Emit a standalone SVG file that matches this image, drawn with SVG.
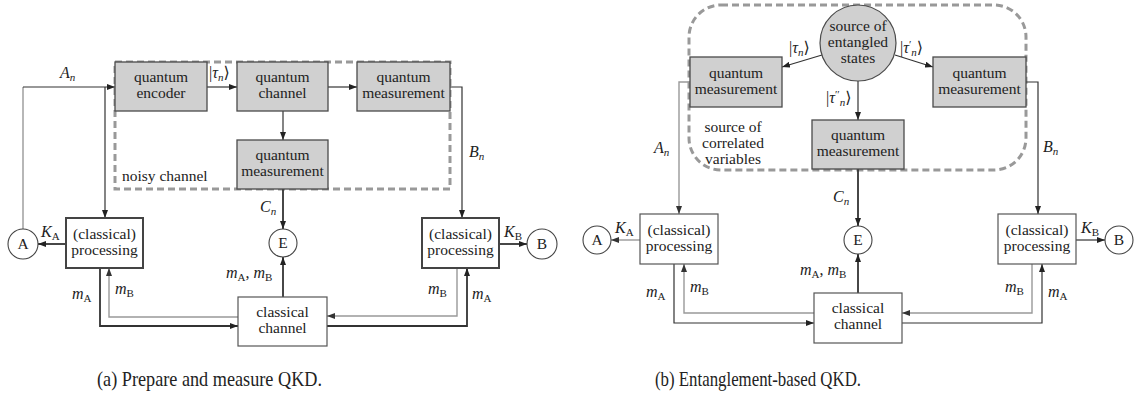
<svg xmlns="http://www.w3.org/2000/svg" width="1135" height="399" viewBox="0 0 1135 399" font-family="'Liberation Serif', 'DejaVu Serif', serif">
  <defs>
    <marker id="arr" viewBox="0 0 8 6" refX="8" refY="3" markerWidth="8" markerHeight="6" markerUnits="userSpaceOnUse" orient="auto">
      <path d="M0,0 L8,3 L0,6 z" fill="#222"/>
    </marker>
    <marker id="arrg" viewBox="0 0 8 6" refX="8" refY="3" markerWidth="8" markerHeight="6" markerUnits="userSpaceOnUse" orient="auto">
      <path d="M0,0 L8,3 L0,6 z" fill="#333"/>
    </marker>
    <style>
      text { font-family: "Liberation Serif", "DejaVu Serif", serif; fill: #222; }
      .t { font-size: 15.5px; text-anchor: middle; }
      .tl { font-size: 15.5px; }
      .m { font-size: 16px; }
      .i { font-style: italic; }
      .s { font-size: 11px; }
      .q { fill: #d0d0d0; stroke: #4a4a4a; stroke-width: 1.3; }
      .b { fill: #fff; stroke: #555; stroke-width: 1.2; }
      .bk { fill: #fff; stroke: #444; stroke-width: 2; }
      .c { fill: #fff; stroke: #444; stroke-width: 1.1; }
      .src { fill: #d0d0d0; stroke: #4a4a4a; stroke-width: 1.2; }
      .dash { fill: none; stroke: #999; stroke-width: 3; stroke-dasharray: 7 4; }
      .l { fill: none; stroke: #333; stroke-width: 1.2; }
      .lk { fill: none; stroke: #333; stroke-width: 1.8; }
      .lg { fill: none; stroke: #999; stroke-width: 1.4; }
      .cap { font-size: 21px; }
    </style>
  </defs>

  <!-- ===== (a) prepare and measure ===== -->
  <rect class="dash" x="115" y="62" width="335" height="127"/>
  <text class="tl" x="122" y="181">noisy channel</text>

  <g id="a-connectors">
    <path class="lg" d="M23,87 V229"/>
    <path class="l" d="M23,87 H115" marker-end="url(#arr)"/>
    <path class="l" d="M105,87 V218" marker-end="url(#arr)"/>
    <path class="l" d="M207,87 H237" marker-end="url(#arr)"/>
    <path class="l" d="M328,87 H357" marker-end="url(#arr)"/>
    <path class="l" d="M283,111 V140" marker-end="url(#arr)"/>
    <path class="l" d="M450,87 H462 V218" marker-end="url(#arr)"/>
    <path class="lk" d="M283,189 V229" marker-end="url(#arr)"/>
    <path class="lk" d="M283,297 V257" marker-end="url(#arr)"/>
    <path class="lk" d="M66,244 H38" marker-end="url(#arr)"/>
    <path class="lk" d="M100,268 V326 H238" marker-end="url(#arr)"/>
    <path class="lg" d="M238,317 H109 V268" marker-end="url(#arrg)"/>
    <path class="lg" d="M457,268 V316 H327" marker-end="url(#arrg)"/>
    <path class="lk" d="M327,326 H467 V268" marker-end="url(#arr)"/>
    <path class="lk" d="M499,244 H527" marker-end="url(#arr)"/>
  </g>

  <g id="a-encoder"><rect class="q" x="115" y="62" width="92" height="49"/>
    <text class="t" x="161" y="82">quantum</text><text class="t" x="161" y="98">encoder</text></g>
  <g id="a-channel"><rect class="q" x="237" y="62" width="91" height="49"/>
    <text class="t" x="282.5" y="82">quantum</text><text class="t" x="282.5" y="98">channel</text></g>
  <g id="a-meas-b"><rect class="q" x="357" y="62" width="93" height="49"/>
    <text class="t" x="403.5" y="82">quantum</text><text class="t" x="403.5" y="98">measurement</text></g>
  <g id="a-meas-e"><rect class="q" x="237" y="140" width="91" height="49"/>
    <text class="t" x="282.5" y="160">quantum</text><text class="t" x="282.5" y="176">measurement</text></g>
  <g id="a-proc-a"><rect class="bk" x="66" y="218" width="77" height="50"/>
    <text class="t" x="104.5" y="239">(classical)</text><text class="t" x="104.5" y="255">processing</text></g>
  <g id="a-proc-b"><rect class="bk" x="422" y="218" width="77" height="50"/>
    <text class="t" x="460.5" y="239">(classical)</text><text class="t" x="460.5" y="255">processing</text></g>
  <g id="a-classical"><rect class="b" x="238" y="297" width="89" height="49"/>
    <text class="t" x="282.5" y="317">classical</text><text class="t" x="282.5" y="333">channel</text></g>
  <g id="a-alice"><circle class="c" cx="23" cy="244" r="15"/><text class="t" x="23" y="249">A</text></g>
  <g id="a-eve"><circle class="c" cx="283" cy="243" r="14"/><text class="t" x="283" y="248">E</text></g>
  <g id="a-bob"><circle class="c" cx="542" cy="244" r="15"/><text class="t" x="542" y="249">B</text></g>

  <g id="a-labels">
    <text class="m" x="60" y="78"><tspan class="i">A</tspan><tspan class="s i" dy="3">n</tspan></text>
    <text class="m" x="209" y="78">|<tspan class="i">τ</tspan><tspan class="s i" dy="3">n</tspan><tspan dy="-3">⟩</tspan></text>
    <text class="m" x="469" y="157"><tspan class="i">B</tspan><tspan class="s i" dy="3">n</tspan></text>
    <text class="m" x="260" y="212"><tspan class="i">C</tspan><tspan class="s i" dy="3">n</tspan></text>
    <text class="m" x="226" y="278"><tspan class="i">m</tspan><tspan class="s" dy="3">A</tspan><tspan dy="-3">, </tspan><tspan class="i">m</tspan><tspan class="s" dy="3">B</tspan></text>
    <text class="m" x="41" y="237"><tspan class="i">K</tspan><tspan class="s" dy="3">A</tspan></text>
    <text class="m" x="72" y="299"><tspan class="i">m</tspan><tspan class="s" dy="3">A</tspan></text>
    <text class="m" x="115" y="294"><tspan class="i">m</tspan><tspan class="s" dy="3">B</tspan></text>
    <text class="m" x="428" y="294"><tspan class="i">m</tspan><tspan class="s" dy="3">B</tspan></text>
    <text class="m" x="472" y="299"><tspan class="i">m</tspan><tspan class="s" dy="3">A</tspan></text>
    <text class="m" x="504" y="237"><tspan class="i">K</tspan><tspan class="s" dy="3">B</tspan></text>
  </g>

  <!-- ===== (b) entanglement based ===== -->
  <rect class="dash" x="689" y="5" width="337" height="165" rx="32" ry="32"/>
  <g id="b-correlated-label">
    <text class="t" x="733" y="132">source of</text>
    <text class="t" x="733" y="148">correlated</text>
    <text class="t" x="733" y="164">variables</text>
  </g>

  <g id="b-connectors">
    <path class="l" d="M822,55 L782,67" marker-end="url(#arr)"/>
    <path class="l" d="M895,55 L933,67" marker-end="url(#arr)"/>
    <path class="l" d="M858,81 V120" marker-end="url(#arr)"/>
    <path class="lg" d="M690,82 H679 V214" marker-end="url(#arrg)"/>
    <path class="l" d="M1026,82 H1038 V214" marker-end="url(#arr)"/>
    <path class="lk" d="M858,169 V226" marker-end="url(#arr)"/>
    <path class="lk" d="M858,293 V254" marker-end="url(#arr)"/>
    <path class="lg" d="M640,240 H611" marker-end="url(#arrg)"/>
    <path class="l" d="M674,264 V323 H814" marker-end="url(#arr)"/>
    <path class="lg" d="M814,313 H684 V264" marker-end="url(#arrg)"/>
    <path class="lg" d="M1032,264 V313 H902" marker-end="url(#arrg)"/>
    <path class="l" d="M902,323 H1042 V264" marker-end="url(#arr)"/>
    <path class="l" d="M1076,240 H1105" marker-end="url(#arr)"/>
  </g>

  <g id="b-source"><circle class="src" cx="858" cy="43" r="38"/>
    <text class="t" x="858" y="31">source of</text><text class="t" x="858" y="47">entangled</text><text class="t" x="858" y="63">states</text></g>
  <g id="b-meas-a"><rect class="q" x="690" y="57" width="92" height="50"/>
    <text class="t" x="736" y="78">quantum</text><text class="t" x="736" y="94">measurement</text></g>
  <g id="b-meas-b"><rect class="q" x="933" y="57" width="93" height="50"/>
    <text class="t" x="979.5" y="78">quantum</text><text class="t" x="979.5" y="94">measurement</text></g>
  <g id="b-meas-e"><rect class="q" x="812" y="120" width="92" height="49"/>
    <text class="t" x="858" y="140">quantum</text><text class="t" x="858" y="156">measurement</text></g>
  <g id="b-proc-a"><rect class="b" x="640" y="214" width="78" height="50"/>
    <text class="t" x="679" y="235">(classical)</text><text class="t" x="679" y="251">processing</text></g>
  <g id="b-proc-b"><rect class="b" x="998" y="214" width="78" height="50"/>
    <text class="t" x="1037" y="235">(classical)</text><text class="t" x="1037" y="251">processing</text></g>
  <g id="b-classical"><rect class="b" x="814" y="293" width="88" height="50"/>
    <text class="t" x="858" y="313">classical</text><text class="t" x="858" y="329">channel</text></g>
  <g id="b-alice"><circle class="c" cx="597" cy="240" r="14"/><text class="t" x="597" y="245">A</text></g>
  <g id="b-eve"><circle class="c" cx="858" cy="240" r="14"/><text class="t" x="858" y="245">E</text></g>
  <g id="b-bob"><circle class="c" cx="1119" cy="240" r="14"/><text class="t" x="1119" y="245">B</text></g>

  <g id="b-labels">
    <text class="m" x="789" y="53">|<tspan class="i">τ</tspan><tspan class="s i" dy="3">n</tspan><tspan dy="-3">⟩</tspan></text>
    <text class="m" x="900" y="53">|<tspan class="i">τ</tspan><tspan class="s" dy="-5">′</tspan><tspan class="s i" dy="8">n</tspan><tspan dy="-3">⟩</tspan></text>
    <text class="m" x="826" y="103">|<tspan class="i">τ</tspan><tspan class="s" dy="-5">′′</tspan><tspan class="s i" dy="8">n</tspan><tspan dy="-3">⟩</tspan></text>
    <text class="m" x="654" y="153"><tspan class="i">A</tspan><tspan class="s i" dy="3">n</tspan></text>
    <text class="m" x="1043" y="152"><tspan class="i">B</tspan><tspan class="s i" dy="3">n</tspan></text>
    <text class="m" x="833" y="202"><tspan class="i">C</tspan><tspan class="s i" dy="3">n</tspan></text>
    <text class="m" x="800" y="275"><tspan class="i">m</tspan><tspan class="s" dy="3">A</tspan><tspan dy="-3">, </tspan><tspan class="i">m</tspan><tspan class="s" dy="3">B</tspan></text>
    <text class="m" x="615" y="233"><tspan class="i">K</tspan><tspan class="s" dy="3">A</tspan></text>
    <text class="m" x="646" y="297"><tspan class="i">m</tspan><tspan class="s" dy="3">A</tspan></text>
    <text class="m" x="690" y="292"><tspan class="i">m</tspan><tspan class="s" dy="3">B</tspan></text>
    <text class="m" x="1005" y="292"><tspan class="i">m</tspan><tspan class="s" dy="3">B</tspan></text>
    <text class="m" x="1048" y="297"><tspan class="i">m</tspan><tspan class="s" dy="3">A</tspan></text>
    <text class="m" x="1081" y="233"><tspan class="i">K</tspan><tspan class="s" dy="3">B</tspan></text>
  </g>

  <g id="captions">
    <text class="cap" x="97" y="386" textLength="225" lengthAdjust="spacingAndGlyphs">(a) Prepare and measure QKD.</text>
    <text class="cap" x="655" y="386" textLength="206" lengthAdjust="spacingAndGlyphs">(b) Entanglement-based QKD.</text>
  </g>
</svg>
